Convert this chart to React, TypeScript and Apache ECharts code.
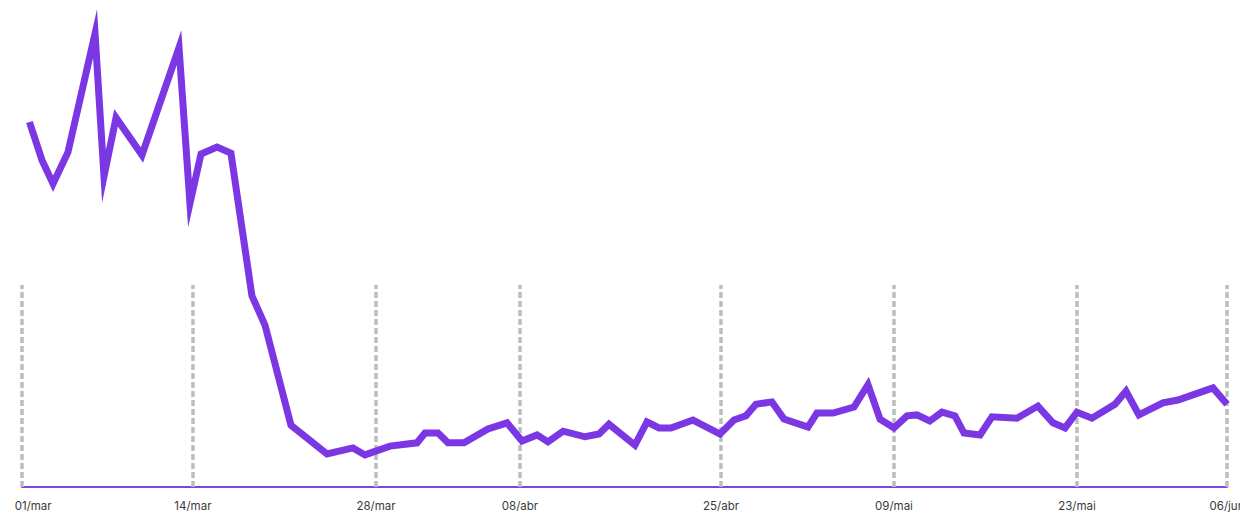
import React, { useEffect, useRef } from "react";
import * as echarts from "echarts";

// x position of each sample (axis units, 01/mar = 0, 06/jun = 97)
const positions: number[] = [
  0.6, 1.61, 2.5, 3.7, 5.88, 6.6, 7.57, 9.66, 12.64, 13.52, 14.41, 15.7, 16.82,
  18.51, 19.56, 21.65, 24.55, 26.64, 27.61, 29.62, 31.8, 32.44, 33.49, 34.29,
  35.58, 37.51, 39.04, 40.25, 41.46, 42.34, 43.56, 45.32, 46.45, 47.25, 49.34,
  50.31, 51.28, 52.24, 54.01, 56.19, 57.31, 58.28, 59.08, 60.37, 61.34, 63.27,
  63.99, 65.28, 66.97, 68.1, 69.07, 70.19, 71.24, 72.04, 73.07, 74.06, 75.1,
  75.83, 77.12, 78.08, 80.09, 81.78, 82.99, 83.96, 84.92, 86.13, 87.98, 88.87,
  89.91, 91.84, 93.05, 95.87, 97.0,
];

// series values (0–100 scale)
const values: number[] = [
  78.5, 70.3, 65.2, 72.0, 97.5, 66.8, 79.4, 71.4, 94.5, 61.0, 71.6, 73.1, 71.8,
  41.1, 34.8, 13.3, 7.1, 8.4, 6.9, 8.8, 9.5, 11.6, 11.6, 9.5, 9.5, 12.5, 13.8,
  9.9, 11.2, 9.7, 12.0, 10.8, 11.4, 13.5, 9.0, 14.0, 12.7, 12.7, 14.4, 11.4,
  14.4, 15.3, 17.8, 18.3, 14.6, 12.9, 15.9, 15.9, 17.2, 22.0, 14.6, 12.7, 15.3,
  15.5, 14.2, 16.1, 15.3, 11.6, 11.2, 15.1, 14.8, 17.4, 13.8, 12.7, 16.1, 14.8,
  17.8, 20.6, 15.5, 18.1, 18.7, 21.3, 17.8,
];

// tick labels and their positions on the x axis
const tickLabels: string[] = [
  "01/mar", "14/mar", "28/mar", "08/abr", "25/abr", "09/mai", "23/mai", "06/jun",
];
const tickPositions: number[] = [0, 13.76, 28.5, 40.09, 56.27, 70.19, 84.92, 97];
const labelPositions: number[] = [0.9, 13.76, 28.5, 40.09, 56.27, 70.19, 84.92, 97];

function labelFor(v: number): string {
  let best = 0;
  for (let i = 1; i < labelPositions.length; i++) {
    if (Math.abs(labelPositions[i] - v) < Math.abs(labelPositions[best] - v)) best = i;
  }
  return tickLabels[best];
}

export default function App() {
  const ref = useRef<HTMLDivElement>(null);

  useEffect(() => {
    document.body.style.margin = "0";
    if (!ref.current) return;
    const chart = echarts.init(ref.current, null, { renderer: "svg" });
    const data = positions.map((p, i) => [p, values[i]]);
    chart.setOption({
      animation: false,
      grid: {
        left: 22,
        right: 13,
        top: 22,
        bottom: 25,
        containLabel: false,
        outerBoundsMode: "none",
      },
      xAxis: {
        type: "value",
        min: 0,
        max: 97,
        axisLine: { show: true, lineStyle: { color: "#8044e4", width: 2 } },
        axisTick: {
          show: true,
          inside: true,
          length: 202,
          customValues: tickPositions,
          lineStyle: { color: "#bdbdbd", width: 3.5, type: [6, 3] },
        },
        axisLabel: {
          show: true,
          customValues: labelPositions,
          showMinLabel: true,
          showMaxLabel: true,
          hideOverlap: false,
          margin: 13,
          color: "#3a3a3a",
          fontSize: 11.5,
          fontFamily: "Inter, 'Noto Sans', sans-serif",
          formatter: (v: number) => labelFor(v),
        },
        splitLine: { show: false },
      },
      yAxis: {
        type: "value",
        min: 0,
        max: 100,
        show: false,
        splitLine: { show: false },
      },
      series: [
        {
          type: "line",
          data,
          showSymbol: false,
          clip: false,
          lineStyle: { color: "#7b37e3", width: 7, join: "miter", miterLimit: 20 },
        },
      ],
    });
    return () => chart.dispose();
  }, []);

  return <div ref={ref} style={{ width: 1240, height: 512 }} />;
}
